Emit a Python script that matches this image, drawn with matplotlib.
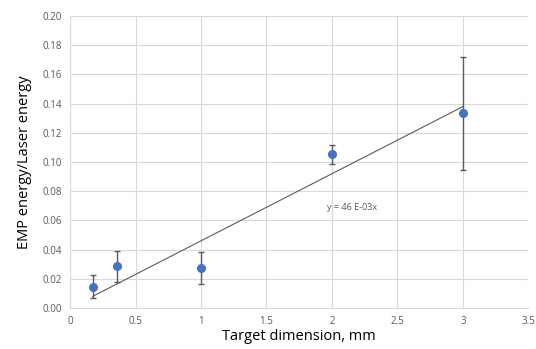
import numpy as np
import matplotlib.pyplot as plt

plt.rcParams['font.family'] = ['Open Sans', 'DejaVu Sans']

# target dimension (mm) vs EMP/laser energy ratio
dimension = [0.173, 0.361, 1.0, 2.0, 3.0]
ratio = [0.0146, 0.0288, 0.0272, 0.1053, 0.1335]
err_low = [0.0066, 0.0176, 0.0162, 0.0985, 0.0945]
err_high = [0.0226, 0.0393, 0.0386, 0.1120, 0.1720]
slope = 0.046

yerr = [np.array(ratio) - np.array(err_low), np.array(err_high) - np.array(ratio)]

fig = plt.figure(figsize=(5.36, 3.49), dpi=100)
ax = fig.add_axes([0.1306, 0.1175, 0.8554, 0.8365])

ax.errorbar(dimension, ratio, yerr=yerr, fmt='o', color='#4472C4', ms=5.5,
            ecolor='#5a5a5a', elinewidth=1.0, capsize=2.5, capthick=1.0, zorder=3)
xfit = np.array([dimension[0], dimension[-1]])
ax.plot(xfit, slope * xfit, color='#5a5a5a', lw=0.8, zorder=2)
ax.text(2.15, 0.069, 'y = 46 E-03x', fontsize=6.5, color='#595959', ha='center', va='center')

ax.set_xlim(0, 3.5)
ax.set_ylim(0, 0.20)
ax.set_xticks(np.arange(0, 3.51, 0.5))
ax.set_xticklabels(['0', '0.5', '1', '1.5', '2', '2.5', '3', '3.5'])
ax.set_yticks(np.arange(0, 0.201, 0.02))
ax.set_yticklabels(['%.2f' % v for v in np.arange(0, 0.201, 0.02)])
ax.tick_params(length=0, labelsize=7, colors='#595959', pad=6)
ax.grid(True, color='#d9d9d9', lw=0.8)
ax.set_axisbelow(True)
for s in ['top', 'right']:
    ax.spines[s].set_visible(False)
for s in ['left', 'bottom']:
    ax.spines[s].set_color('#d9d9d9')

ax.set_xlabel('Target dimension, mm', fontsize=10.5, color='black', labelpad=1)
ax.set_ylabel('EMP energy/Laser energy', fontsize=10.5, color='black', labelpad=7)

fig.savefig('out.png', dpi=100)
